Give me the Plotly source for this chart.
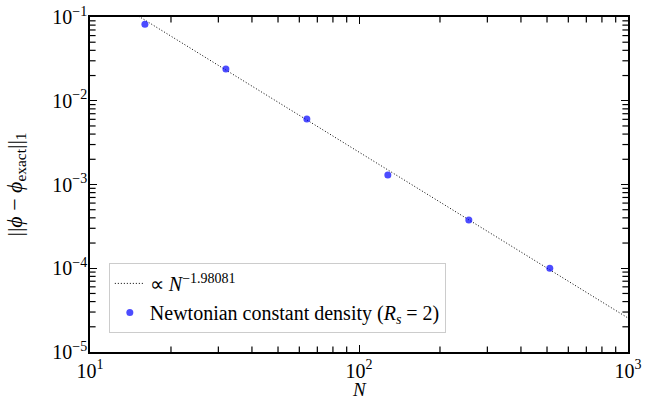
import plotly.graph_objects as go

# Data
N_values = [16, 32, 64, 128, 256, 512]
errors = [0.0818, 0.0239, 0.00605, 0.00130, 0.000377, 0.000100]

fit_exponent = -1.98081
fit_prefactor = 22.3
fit_N = [10, 1000]
fit_err = [fit_prefactor * n ** fit_exponent for n in fit_N]

x_range = [10, 1000]
y_range = [1e-5, 1e-1]
x_tick_vals = [10, 100, 1000]
x_tick_text = ["10<sup>1</sup>", "10<sup>2</sup>", "10<sup>3</sup>"]
y_tick_vals = [1e-5, 1e-4, 1e-3, 1e-2, 1e-1]
y_tick_text = ["10<sup>−5</sup>", "10<sup>−4</sup>", "10<sup>−3</sup>", "10<sup>−2</sup>", "10<sup>−1</sup>"]
x_minor = [m * 10 ** e for e in (1, 2) for m in range(2, 10)]
y_minor = [m * 10.0 ** e for e in (-5, -4, -3, -2) for m in range(2, 10)]

font_family = "Liberation Serif"

fig = go.Figure()
fig.add_trace(go.Scatter(
    x=fit_N, y=fit_err, mode="lines",
    line=dict(color="black", width=1, dash="1px,2px"),
    name="∝ <i>N</i><sup>−1.98081</sup>",
))
fig.add_trace(go.Scatter(
    x=N_values, y=errors, mode="markers",
    marker=dict(color="rgba(0,0,255,0.7)", size=7),
    name="Newtonian constant density (<i>R<sub>s</sub></i> = 2)",
))

# minor ticks: tick-shaped markers on the frame, half clipped away by the plot area
tick_marker = dict(color="black", size=8, line=dict(color="black", width=1.2))
fig.add_trace(go.Scatter(
    x=x_minor + x_minor, y=[y_range[0]] * len(x_minor) + [y_range[1]] * len(x_minor),
    mode="markers", marker=dict(symbol="line-ns-open", **tick_marker),
    showlegend=False, hoverinfo="skip", cliponaxis=True,
))
fig.add_trace(go.Scatter(
    x=[x_range[0]] * len(y_minor) + [x_range[1]] * len(y_minor), y=y_minor + y_minor,
    mode="markers", marker=dict(symbol="line-ew-open", **tick_marker),
    showlegend=False, hoverinfo="skip", cliponaxis=True,
))

def axis_style(vals, text, standoff):
    return dict(
        type="log", tickmode="array", tickvals=vals, ticktext=text,
        showline=True, linecolor="black", linewidth=1.5, mirror="ticks",
        ticks="inside", ticklen=7, tickwidth=1.3, tickcolor="black",
        showgrid=False, zeroline=False, automargin=False,
        ticklabelstandoff=standoff,
        tickfont=dict(family=font_family, size=20, color="black"),
    )

fig.update_layout(
    xaxis=dict(range=[1, 3], **axis_style(x_tick_vals, x_tick_text, 0)),
    yaxis=dict(range=[-5, -1], **axis_style(y_tick_vals, y_tick_text, -3),
               title=dict(text="||<i>ϕ</i> − <i>ϕ</i><sub>exact</sub>||<sub>1</sub>",
                          font=dict(family=font_family, size=22, color="black"), standoff=24)),
)

fig.add_annotation(text="<i>N</i>", x=0.5, y=0, xref="paper", yref="paper",
                   xanchor="center", yanchor="top", yshift=-25, showarrow=False,
                   font=dict(family=font_family, size=19, color="black"))

fig.update_layout(
    width=655, height=400,
    margin=dict(l=90, r=27, t=17, b=48),
    plot_bgcolor="white", paper_bgcolor="white",
    font=dict(family=font_family, color="black"),
    legend=dict(
        x=0.035, y=0.057, xanchor="left", yanchor="bottom",
        bordercolor="#cccccc", borderwidth=1, bgcolor="rgba(255,255,255,0.8)",
        font=dict(family=font_family, size=20, color="black"),
        tracegroupgap=0,
    ),
    showlegend=True,
)

fig.write_html("out.html", config={"displayModeBar": False},
               post_script="document.body.style.margin='0';")
